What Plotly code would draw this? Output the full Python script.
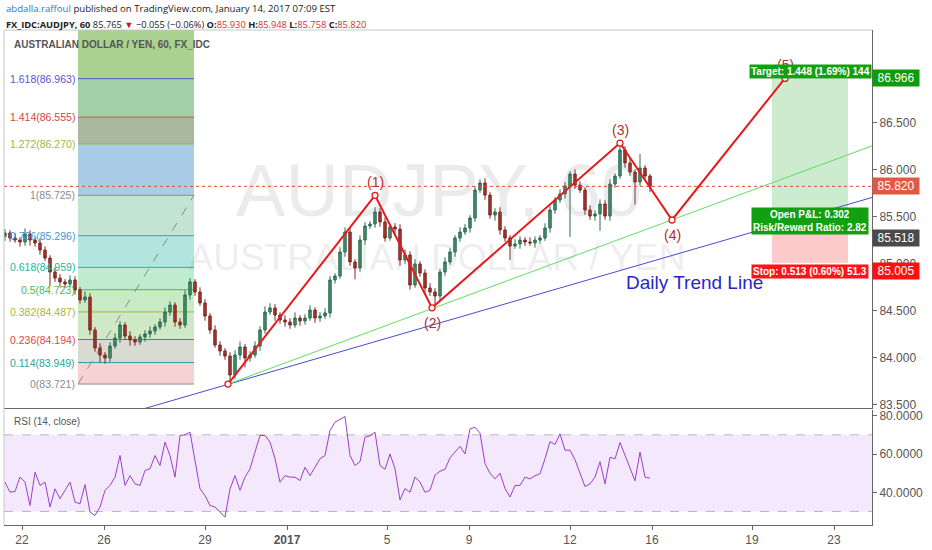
import plotly.graph_objects as go

# ---------------- data ----------------
tick_pos = [3.4, 19.8, 40, 56.4, 76.4, 92.8, 113, 129.4, 149.4, 165.8]
tick_text = ["22", "26", "29", "<b>2017</b>", "5", "9", "12", "16", "19", "23"]

first_open = 85.290
closes = [85.325, 85.272, 85.250, 85.229, 85.314, 85.250, 85.219, 85.144, 85.059, 84.911,
          84.847, 84.805, 84.783, 84.826, 84.720, 84.614, 84.645, 84.295, 84.104, 84.030,
          83.998, 84.125, 84.210, 84.348, 84.231, 84.189, 84.168, 84.221, 84.253, 84.284,
          84.327, 84.380, 84.486, 84.560, 84.380, 84.348, 84.667, 84.805, 84.698, 84.582,
          84.444, 84.295, 84.136, 84.072, 84.019, 83.817, 84.030, 84.115, 83.998, 84.030,
          84.125, 84.295, 84.486, 84.529, 84.454, 84.401, 84.380, 84.348, 84.422, 84.391,
          84.422, 84.507, 84.422, 84.444, 84.476, 84.826, 84.868, 85.123, 85.335, 85.017,
          84.953, 85.250, 85.399, 85.420, 85.548, 85.442, 85.272, 85.389, 85.367, 85.038,
          85.091, 84.773, 84.996, 84.900, 84.741, 84.698, 84.656, 84.911, 85.017, 85.123,
          85.272, 85.335, 85.378, 85.484, 85.781, 85.856, 85.728, 85.516, 85.548, 85.357,
          85.272, 85.187, 85.208, 85.250, 85.229, 85.219, 85.250, 85.272, 85.378, 85.569,
          85.675, 85.739, 85.824, 85.951, 85.834, 85.781, 85.569, 85.505, 85.527, 85.633,
          85.505, 85.845, 85.930, 86.206, 86.068, 85.972, 85.866, 86.015, 85.930, 85.820]
upper_wick = [0.04, 0.03, 0.05, 0.03, 0.06, 0.04, 0.03, 0.05, 0.04, 0.03,
              0.05, 0.04, 0.03, 0.05, 0.04, 0.03, 0.06, 0.04, 0.03, 0.05,
              0.03, 0.04, 0.05, 0.04, 0.03, 0.05, 0.04, 0.03, 0.04, 0.05,
              0.03, 0.04, 0.05, 0.04, 0.03, 0.04, 0.05, 0.04, 0.03, 0.05,
              0.04, 0.03, 0.05, 0.04, 0.03, 0.04, 0.05, 0.06, 0.03, 0.04,
              0.05, 0.04, 0.06, 0.05, 0.04, 0.03, 0.05, 0.04, 0.06, 0.03,
              0.04, 0.05, 0.03, 0.04, 0.05, 0.04, 0.03, 0.05, 0.05, 0.04,
              0.03, 0.05, 0.04, 0.03, 0.05, 0.04, 0.05, 0.03, 0.04, 0.05,
              0.06, 0.04, 0.05, 0.03, 0.04, 0.05, 0.04, 0.03, 0.05, 0.04,
              0.03, 0.05, 0.04, 0.03, 0.04, 0.04, 0.05, 0.03, 0.04, 0.05,
              0.04, 0.03, 0.05, 0.04, 0.03, 0.05, 0.04, 0.03, 0.05, 0.04,
              0.03, 0.05, 0.04, 0.03, 0.05, 0.04, 0.03, 0.05, 0.04, 0.05,
              0.04, 0.05, 0.03, 0.07, 0.04, 0.05, 0.03, 0.15, 0.03, 0.02]
lower_wick = [0.05, 0.04, 0.03, 0.05, 0.04, 0.06, 0.04, 0.05, 0.03, 0.15,
              0.04, 0.05, 0.04, 0.03, 0.05, 0.04, 0.03, 0.05, 0.04, 0.08,
              0.06, 0.04, 0.03, 0.05, 0.04, 0.06, 0.04, 0.03, 0.05, 0.04,
              0.04, 0.03, 0.05, 0.04, 0.05, 0.04, 0.03, 0.05, 0.04, 0.03,
              0.05, 0.04, 0.03, 0.05, 0.04, 0.096, 0.04, 0.05, 0.10, 0.04,
              0.03, 0.05, 0.04, 0.03, 0.06, 0.04, 0.05, 0.04, 0.03, 0.05,
              0.04, 0.03, 0.05, 0.04, 0.03, 0.05, 0.04, 0.03, 0.05, 0.04,
              0.12, 0.04, 0.05, 0.03, 0.04, 0.05, 0.04, 0.03, 0.05, 0.06,
              0.04, 0.05, 0.03, 0.04, 0.05, 0.04, 0.10, 0.05, 0.04, 0.03,
              0.05, 0.04, 0.03, 0.05, 0.04, 0.03, 0.05, 0.04, 0.06, 0.05,
              0.04, 0.15, 0.03, 0.05, 0.04, 0.03, 0.05, 0.04, 0.03, 0.05,
              0.04, 0.03, 0.05, 0.54, 0.04, 0.03, 0.05, 0.04, 0.05, 0.18,
              0.04, 0.05, 0.04, 0.03, 0.05, 0.04, 0.24, 0.04, 0.05, 0.062]
rsi = [45.3, 40.1, 40.4, 48.0, 45.3, 33.1, 50.5, 43.6, 45.3, 32.3,
       41.8, 36.6, 41.0, 45.3, 34.9, 34.0, 44.0, 29.7, 27.9, 32.3,
       41.0, 43.6, 47.9, 59.2, 43.6, 48.7, 44.4, 43.6, 51.4, 52.3,
       59.2, 54.0, 66.2, 59.2, 47.9, 69.7, 70.0, 71.4, 56.6, 41.8,
       38.3, 33.1, 32.3, 29.7, 27.0, 41.8, 48.7, 41.0, 47.9, 52.3,
       61.0, 69.7, 69.7, 66.2, 57.5, 45.3, 48.7, 47.9, 47.9, 46.1,
       53.1, 48.7, 53.1, 57.5, 59.2, 72.3, 76.6, 78.3, 79.6, 59.2,
       54.0, 56.0, 68.8, 69.5, 71.4, 54.0, 52.0, 60.0, 52.3, 36.0,
       42.0, 40.0, 48.0, 45.3, 40.0, 41.0, 49.0, 51.0, 52.0, 58.0,
       61.0, 64.0, 60.0, 73.1, 74.0, 71.0, 54.9, 50.0, 47.0, 50.0,
       42.0, 37.5, 43.6, 43.6, 47.9, 47.0, 48.7, 49.7, 57.5, 66.5,
       65.0, 70.5, 62.0, 62.0, 57.0, 50.5, 43.0, 44.4, 48.0, 56.0,
       44.4, 58.3, 57.5, 66.0, 59.0, 53.0, 46.0, 61.0, 47.9, 47.4]

price_ticks = [83.5, 84.0, 84.5, 85.0, 85.5, 86.0, 86.5, 87.0]
rsi_ticks = [40, 60, 80]
last_close = 85.820

# Fibonacci retracement tool
fib_x0, fib_x1 = 14.6, 37.8
fib_p0, fib_p1 = 83.721, 85.725
fib_ratios = [0, 0.114, 0.236, 0.382, 0.5, 0.618, 0.786, 1, 1.272, 1.414, 1.618]
fib_top_ratio = 2.618
fib_line_colors = ["#8c8c8c", "#26a69a", "#e04848", "#a9b637", "#4cbb4c", "#26b5a0",
                   "#3c9ad6", "#8c8c8c", "#a4b43c", "#d94444", "#5555cc"]
fib_zone_colors = ["#f6d2d2", "#d9dad2", "#cfe9c7", "#c8ebc6", "#bfebcf", "#b3e5df",
                   "#c3e3d3", "#a9cde6", "#a9b9a0", "#a2d0a6", "#aad18f"]

# Elliott wave zigzag
wave_x = [44.6, 74, 85.4, 123, 133.4, 156]
wave_y = [83.721, 85.725, 84.53, 86.28, 85.463, 86.966]
wave_labels = ["", "(1)", "(2)", "(3)", "(4)", "(5)"]
wave_label_up = [False, True, False, True, False, True]

# trend lines
green_x, green_y = [44.6, 173.4], [83.721, 86.25]
blue_x, blue_y = [27, 173.4], [83.447, 85.702]

# long position tool
pos_x0, pos_x1 = 153.4, 168.6
pos_entry, pos_target, pos_stop = 85.518, 86.966, 85.005
pos_mid_x = 161

# ---------------- derived ----------------
n = len(closes)
bar_idx = list(range(n))
opens = [first_open] + closes[:-1]
highs = [round(max(o, c) + u, 3) for o, c, u in zip(opens, closes, upper_wick)]
lows = [round(min(o, c) - l, 3) for o, c, l in zip(opens, closes, lower_wick)]
fib_levels = [fib_p0 + r * (fib_p1 - fib_p0) for r in fib_ratios]
fib_top = fib_p0 + fib_top_ratio * (fib_p1 - fib_p0)

FONT = "Liberation Sans"
fig = go.Figure()

# watermark (behind candles)
fig.add_trace(go.Scatter(x=[86.8], y=[85.707], mode="text", text=["AUDJPY, 60"],
                         textfont=dict(size=74, color="rgba(120,123,134,0.15)", family=FONT),
                         hoverinfo="skip", showlegend=False))
fig.add_trace(go.Scatter(x=[86.4], y=[85.028], mode="text", text=["AUSTRALIAN DOLLAR / YEN"],
                         textfont=dict(size=37, color="rgba(120,123,134,0.15)", family=FONT),
                         hoverinfo="skip", showlegend=False))

# trend lines
fig.add_trace(go.Scatter(x=blue_x, y=blue_y, mode="lines", line=dict(color="#4a4ad6", width=1),
                         hoverinfo="skip", showlegend=False))
fig.add_trace(go.Scatter(x=green_x, y=green_y, mode="lines", line=dict(color="#5ee05e", width=1),
                         hoverinfo="skip", showlegend=False))

# candles
fig.add_trace(go.Candlestick(
    x=bar_idx, open=opens, high=highs, low=lows, close=closes,
    increasing=dict(fillcolor="#3f8f69", line=dict(color="#2f6b52", width=1)),
    decreasing=dict(fillcolor="#a8342c", line=dict(color="#7d2a24", width=1)),
    whiskerwidth=0, showlegend=False, hoverinfo="skip"))

# zigzag
fig.add_trace(go.Scatter(x=wave_x, y=wave_y, mode="lines+markers",
                         line=dict(color="#e8191a", width=2),
                         marker=dict(size=6, color="white", line=dict(color="#e8191a", width=1.3)),
                         hoverinfo="skip", showlegend=False))

# RSI
fig.add_trace(go.Scatter(x=bar_idx, y=rsi, mode="lines", xaxis="x2", yaxis="y2",
                         line=dict(color="#9c3fc9", width=1), hoverinfo="skip", showlegend=False))

shapes = []
for i in range(len(fib_levels)):
    top = fib_levels[i + 1] if i + 1 < len(fib_levels) else fib_top
    shapes.append(dict(type="rect", xref="x", yref="y", x0=fib_x0, x1=fib_x1,
                       y0=fib_levels[i], y1=top, fillcolor=fib_zone_colors[i],
                       line=dict(width=0), layer="below"))
for lv, col in zip(fib_levels, fib_line_colors):
    shapes.append(dict(type="line", xref="x", yref="y", x0=fib_x0, x1=fib_x1, y0=lv, y1=lv,
                       line=dict(color=col, width=1), layer="below"))
shapes.append(dict(type="line", xref="x", yref="y", x0=fib_x0, x1=fib_x1, y0=fib_p0, y1=fib_p1,
                   line=dict(color="#8c8c8c", width=1, dash="dash"), layer="below"))
shapes.append(dict(type="rect", xref="x", yref="y", x0=pos_x0, x1=pos_x1, y0=pos_entry,
                   y1=pos_target, fillcolor="#cdebcf", line=dict(width=0), layer="below"))
shapes.append(dict(type="rect", xref="x", yref="y", x0=pos_x0, x1=pos_x1, y0=pos_stop,
                   y1=pos_entry, fillcolor="#fbcaca", line=dict(width=0), layer="below"))
shapes.append(dict(type="line", xref="paper", yref="y", x0=0, x1=1, y0=last_close, y1=last_close,
                   line=dict(color="#e04a3a", width=1, dash="dot")))
shapes.append(dict(type="rect", xref="paper", yref="y2", x0=0, x1=1, y0=30, y1=70,
                   fillcolor="#f3e8fc", line=dict(width=0), layer="below"))
for v in (30, 70):
    shapes.append(dict(type="line", xref="paper", yref="y2", x0=0, x1=1, y0=v, y1=v,
                       line=dict(color="#bdb3c6", width=1, dash="dash"), layer="below"))
shapes.append(dict(type="line", xref="paper", yref="paper", x0=0, x1=1, y0=1, y1=1,
                   line=dict(color="#c8c8c8", width=1)))
shapes.append(dict(type="line", xref="paper", yref="paper", x0=0, x1=0, y0=0, y1=1,
                   line=dict(color="#c8c8c8", width=1)))

ann = []
ann.append(dict(xref="paper", yref="paper", x=0, y=1.044, xanchor="left", yanchor="middle",
                showarrow=False, font=dict(family="Open Sans", size=9.6, color="#222"),
                text="<span style='color:#2a7ab8'>abdalla.raffoul</span> published on TradingView.com, January 14, 2017 07:09 EST"))
ann.append(dict(xref="paper", yref="paper", x=0, y=1.012, xanchor="left", yanchor="middle",
                showarrow=False, font=dict(family="Open Sans", size=9.3, color="#222"),
                text="<b>FX_IDC:AUDJPY, 60</b> 85.765 <span style='color:#c41a1a'>▼</span> −0.055 (−0.06%) "
                     "<b>O:</b><span style='color:#d0312d'>85.930</span> <b>H:</b><span style='color:#d0312d'>85.948</span> "
                     "<b>L:</b><span style='color:#d0312d'>85.758</span> <b>C:</b><span style='color:#d0312d'>85.820</span>"))
ann.append(dict(xref="paper", yref="paper", x=0.0092, y=0.9717, xanchor="left", yanchor="middle",
                showarrow=False, font=dict(family=FONT, size=10, color="#555"),
                text="<b>AUSTRALIAN DOLLAR / YEN, 60, FX_IDC</b>"))
ann.append(dict(xref="paper", yref="paper", x=0.0092, y=0.2101, xanchor="left", yanchor="middle",
                showarrow=False, font=dict(family=FONT, size=10, color="#555"),
                text="RSI (14, close)"))
for r, lv, col in zip(fib_ratios, fib_levels, fib_line_colors):
    ann.append(dict(xref="x", yref="y", x=fib_x0, y=lv, xanchor="right", yanchor="middle",
                    xshift=-1, showarrow=False, font=dict(family=FONT, size=10.5, color=col),
                    text=f"{r:g}({lv:.3f})"))
for wx, wy, lab, up in zip(wave_x, wave_y, wave_labels, wave_label_up):
    if lab:
        ann.append(dict(xref="x", yref="y", x=wx, y=wy, showarrow=False,
                        yshift=13 if up else -15, font=dict(family=FONT, size=14, color="#b2302a"),
                        text=lab))
ann.append(dict(xref="x", yref="y", x=137.8, y=84.794, showarrow=False,
                font=dict(family=FONT, size=19, color="#2727c8"), text="Daily Trend Line"))
ann.append(dict(xref="x", yref="y", x=pos_mid_x, y=pos_target, yshift=7, showarrow=False,
                bgcolor="#12a012", borderpad=1, font=dict(family=FONT, size=10, color="white"),
                text="<b>Target: 1.448 (1.69%) 144</b>"))
ann.append(dict(xref="x", yref="y", x=pos_mid_x, y=pos_entry, yshift=-6, showarrow=False,
                bgcolor="#12a012", borderpad=1, font=dict(family=FONT, size=10, color="white"),
                text="<b>Open P&L: 0.302<br>Risk/Reward Ratio: 2.82</b>"))
ann.append(dict(xref="x", yref="y", x=pos_mid_x, y=pos_stop, yshift=-8, showarrow=False,
                bgcolor="#ff1414", borderpad=1, font=dict(family=FONT, size=10, color="white"),
                text="<b>Stop: 0.513 (0.60%) 51.3</b>"))
for val, col, ys in [(pos_target, "#0f9a0f", 0), (last_close, "#df5a44", 0),
                     (pos_entry, "#4a4a4a", -23), (pos_stop, "#ff1010", -8)]:
    ann.append(dict(xref="paper", yref="y", x=1, y=val, xanchor="left", yanchor="middle",
                    yshift=ys, showarrow=False, bgcolor=col, borderpad=1, width=44,
                    font=dict(family=FONT, size=12, color="white"), text=f"{val:.3f}"))

fig.update_layout(
    width=932, height=550, margin=dict(l=4, r=60, t=30, b=25),
    paper_bgcolor="white", plot_bgcolor="white", showlegend=False,
    shapes=shapes, annotations=ann,
    xaxis=dict(domain=[0, 1], anchor="y", range=[-0.2, 173.4], showticklabels=False,
               showline=True, linecolor="#666", showgrid=False, zeroline=False,
               rangeslider=dict(visible=False), ticks=""),
    xaxis2=dict(domain=[0, 1], anchor="y2", matches="x", range=[-0.2, 173.4],
                tickvals=tick_pos, ticktext=tick_text, ticks="outside", ticklen=4,
                tickcolor="#666", showline=True, linecolor="#666", showgrid=False,
                zeroline=False, tickfont=dict(family=FONT, size=12, color="#555")),
    yaxis=dict(domain=[0.2364, 1], anchor="x", side="right", range=[83.467, 87.480],
               tickvals=price_ticks, ticktext=[f"{v:.3f}" for v in price_ticks],
               ticks="outside", ticklen=4, tickcolor="#666", showline=True, linecolor="#666",
               showgrid=False, zeroline=False, tickfont=dict(family=FONT, size=12, color="#555")),
    yaxis2=dict(domain=[0, 0.2323], anchor="x2", side="right", range=[22.92, 82.98],
                tickvals=rsi_ticks, ticktext=[f"{v:.4f}" for v in rsi_ticks],
                ticks="outside", ticklen=4, tickcolor="#666", showline=True, linecolor="#666",
                showgrid=False, zeroline=False, tickfont=dict(family=FONT, size=12, color="#555")),
)

fig.write_html("out.html", config={"displayModeBar": False},
               post_script="document.body.style.margin='0';")
